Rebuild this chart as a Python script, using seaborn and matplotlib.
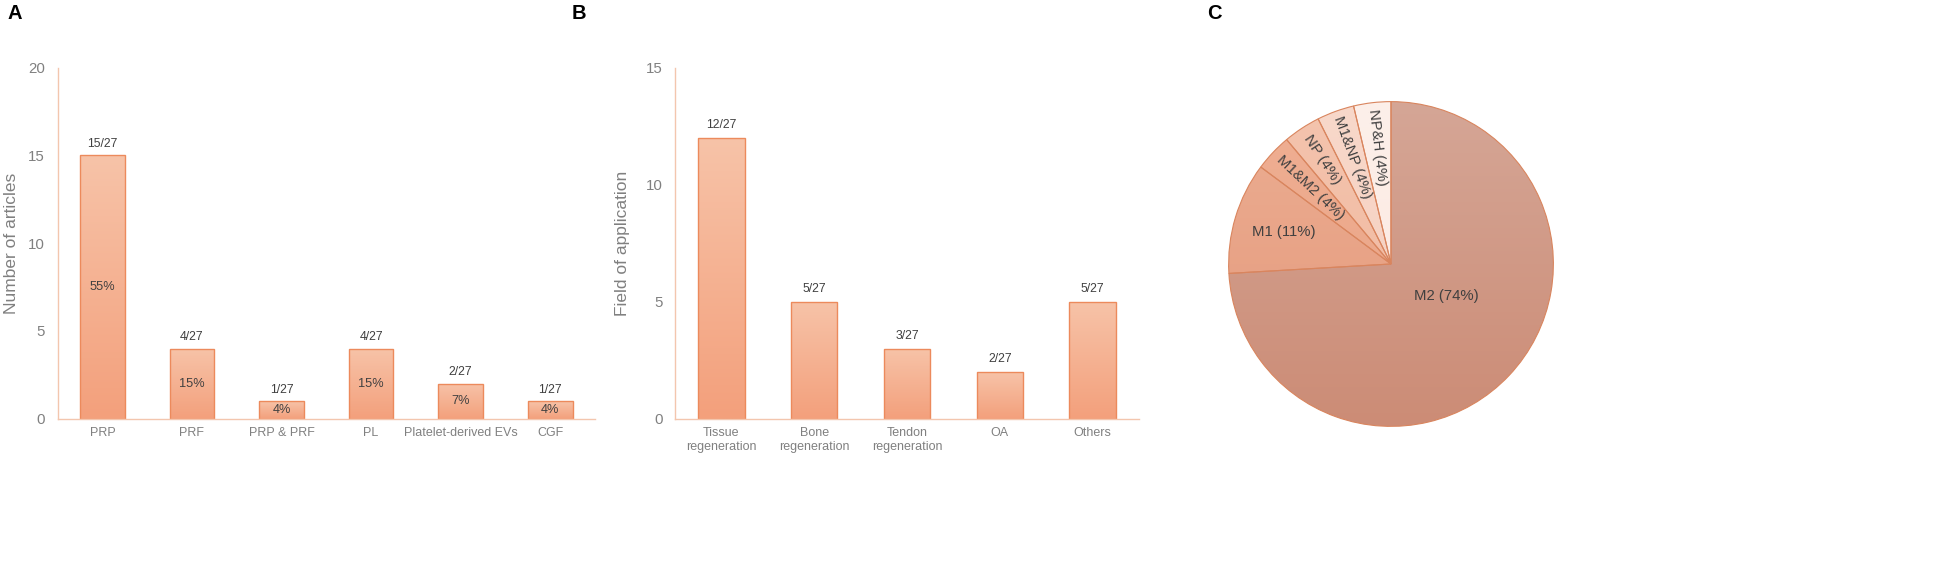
import numpy as np
import pandas as pd
import seaborn as sns
import matplotlib.pyplot as plt
from matplotlib.colors import LinearSegmentedColormap

sns.set_theme(style='white')
plt.rcParams['font.family'] = ['Liberation Sans', 'DejaVu Sans']

# panel A
cats_a = ['PRP', 'PRF', 'PRP & PRF', 'PL', 'Platelet-derived EVs', 'CGF']
vals_a = [15, 4, 1, 4, 2, 1]
pct_a = ['55%', '15%', '4%', '15%', '7%', '4%']

# panel B
cats_b = ['Tissue\nregeneration', 'Bone\nregeneration', 'Tendon\nregeneration', 'OA', 'Others']
vals_b = [12, 5, 3, 2, 5]

TOTAL = 27

# panel C
pie_names = ['M2', 'M1', 'M1&M2', 'NP', 'M1&NP', 'NP&H']
pie_vals = [20, 3, 1, 1, 1, 1]
pie_pct = ['74%', '11%', '4%', '4%', '4%', '4%']

bar_top, bar_bot, bar_edge = '#F7C3A8', '#F3A07C', '#EC8A5C'
spine_col = '#F3C6AE'
tick_col = '#808080'
txt_col = '#404040'
pie_cols = [('#D5A696', '#CC8C76'), ('#ECAE93', '#E4987A'), ('#EFAF93', '#EAA284'),
            ('#F4C4AE', '#F0B69C'), ('#F8D8CA', '#F5CEBE'), ('#FDF0EA', '#FBE6DD')]

W, H = 1949, 570
fig = plt.figure(figsize=(W / 100, H / 100), dpi=100)


def grad_fill(ax, patch, top, bot, extent):
    cmap = LinearSegmentedColormap.from_list('g', [bot, top])
    img = ax.imshow(np.linspace(0, 1, 100).reshape(-1, 1), extent=extent, origin='lower',
                    aspect='auto', cmap=cmap, zorder=patch.get_zorder() - 0.01)
    img.set_clip_path(patch)


def bar_panel(ax, cats, vals, ymax, ylabel, labelpad):
    df = pd.DataFrame({'cat': cats, 'val': vals})
    sns.barplot(data=df, x='cat', y='val', ax=ax, width=0.5, saturation=1,
                color=bar_top, edgecolor=bar_edge, linewidth=1.0)
    for p in ax.patches:
        p.set_facecolor('none')
        x0, y0 = p.get_x(), p.get_y()
        grad_fill(ax, p, bar_top, bar_bot, [x0, x0 + p.get_width(), y0, y0 + p.get_height()])
        ax.text(x0 + p.get_width() / 2, p.get_height() + 0.3, f'{int(p.get_height())}/{TOTAL}',
                ha='center', va='bottom', fontsize=8.8, color=txt_col)
    ax.set_xlim(-0.5, len(cats) - 0.5)
    ax.set_ylim(0, ymax)
    ax.set_yticks(range(0, ymax + 1, 5))
    ax.set_xlabel('')
    ax.set_ylabel(ylabel, fontsize=12.5, color=tick_col, labelpad=labelpad)
    ax.tick_params(axis='both', length=0, colors=tick_col)
    ax.tick_params(axis='y', labelsize=10.8, pad=9)
    ax.tick_params(axis='x', labelsize=9.0, pad=6)
    for s in ['top', 'right']:
        ax.spines[s].set_visible(False)
    for s in ['left', 'bottom']:
        ax.spines[s].set_color(spine_col)
        ax.spines[s].set_linewidth(1.0)
    ax.set_facecolor('white')


bottom = (H - 418.8) / H
height = (418.8 - 67.5) / H
ax_a = fig.add_axes([57.6 / W, bottom, (595 - 57.6) / W, height])
bar_panel(ax_a, cats_a, vals_a, 20, 'Number of articles', 7)
for i, (v, t) in enumerate(zip(vals_a, pct_a)):
    ax_a.text(i, v / 2, t, ha='center', va='center', fontsize=9.2, color=txt_col)

ax_b = fig.add_axes([675 / W, bottom, (1139 - 675) / W, height])
bar_panel(ax_b, cats_b, vals_b, 15, 'Field of application', 11)

# pie
cx, cy, r = 1391, 264, 164
ax_c = fig.add_axes([(cx - r) / W, (H - cy - r) / H, 2 * r / W, 2 * r / H])
wedges, _ = ax_c.pie(pie_vals, startangle=90, counterclock=False,
                     colors=[c[0] for c in pie_cols],
                     wedgeprops=dict(edgecolor='#D9855E', linewidth=0.8))
for w, (top, bot) in zip(wedges, pie_cols):
    w.set_facecolor('none')
    grad_fill(ax_c, w, top, bot, [-1, 1, -1, 1])

label_pos = {'M2': (0.39, -30), 'M1': (0.69, None)}
label_r = {'NP': 0.77, 'M1&NP': 0.70, 'NP&H': 0.72, 'M1&M2': 0.68}
for w, name, pct in zip(wedges, pie_names, pie_pct):
    mid = (w.theta1 + w.theta2) / 2
    if name in label_pos:
        rr, ang = label_pos[name]
        ang = mid if ang is None else ang
        rot = 0
    else:
        rr, ang, rot = label_r[name], mid, mid - 180
    x, y = rr * np.cos(np.radians(ang)), rr * np.sin(np.radians(ang))
    ax_c.text(x, y, f'{name} ({pct})', ha='center', va='center', rotation=rot,
              rotation_mode='anchor', fontsize=10.7, color=txt_col)
ax_c.set_xlim(-1.01, 1.01)
ax_c.set_ylim(-1.01, 1.01)
ax_c.axis('off')

# panel letters
for lx, lab in [(8, 'A'), (572, 'B'), (1207, 'C')]:
    fig.text(lx / W, 1 - 4 / H, lab, fontsize=14.5, fontweight='bold', va='top', ha='left',
             color='black')

fig.savefig('out.png', dpi=100, facecolor='white')
